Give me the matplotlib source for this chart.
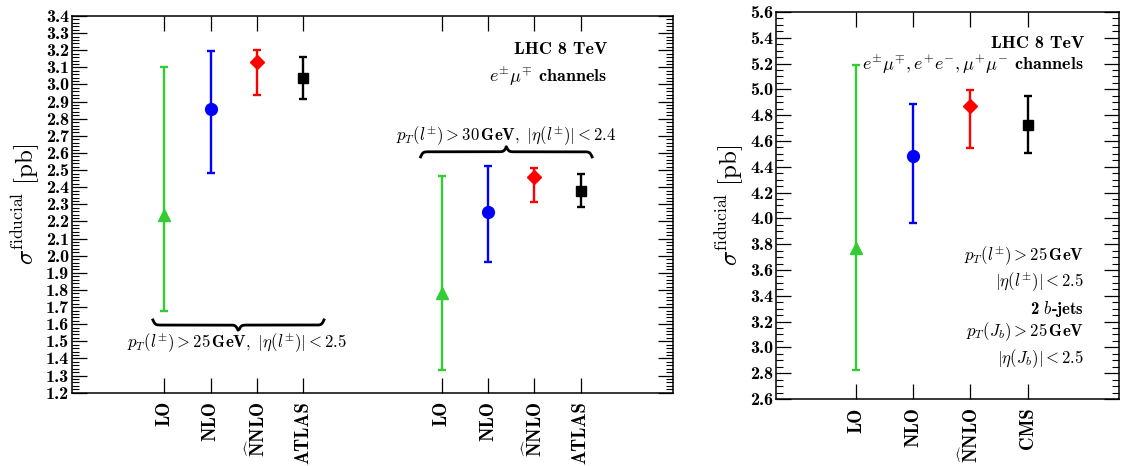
import numpy as np
import matplotlib
matplotlib.use("Agg")
import matplotlib.pyplot as plt
from matplotlib.ticker import MultipleLocator, FormatStrFormatter

plt.rcParams['font.family'] = ['cmb10', 'DejaVu Serif']
plt.rcParams['mathtext.fontset'] = 'cm'
plt.rcParams['axes.unicode_minus'] = False
plt.rcParams['axes.formatter.use_mathtext'] = False

# ---------------- data ----------------
labels_atlas = ["LO", "NLO", r"$\widehat{\mathbf{N}}\mathbf{NLO}$", "ATLAS"]
labels_cms = ["LO", "NLO", r"$\widehat{\mathbf{N}}\mathbf{NLO}$", "CMS"]

# ATLAS, pT>25 GeV, |eta|<2.5
atlas25_central = [2.24, 2.855, 3.13, 3.035]
atlas25_high = [3.10, 3.195, 3.20, 3.16]
atlas25_low = [1.68, 2.485, 2.94, 2.913]

# ATLAS, pT>30 GeV, |eta|<2.4
atlas30_central = [1.785, 2.255, 2.46, 2.378]
atlas30_high = [2.467, 2.522, 2.515, 2.479]
atlas30_low = [1.332, 1.965, 2.312, 2.283]

# CMS
cms_central = [3.77, 4.48, 4.87, 4.727]
cms_high = [5.19, 4.884, 4.995, 4.949]
cms_low = [2.825, 3.967, 4.546, 4.504]

colors = ["#33cc33", "#0000ff", "#ff0000", "#000000"]
markers = ["^", "o", "D", "s"]
msizes = [8, 8.5, 7.5, 7.5]

W, H = 1121, 466
fig = plt.figure(figsize=(W / 100, H / 100), dpi=100)
axL = fig.add_axes([72 / W, 1 - 392.7 / H, 601 / W, 376.7 / H])
axR = fig.add_axes([776 / W, 1 - 399 / H, 343 / W, 387 / H])

TICK_FS = 13
CAT_FS = 13.5


def draw_points(ax, xs, c, hi, lo):
    for x, v, h, l, col, m, ms in zip(xs, c, hi, lo, colors, markers, msizes):
        ax.errorbar([x], [v], yerr=[[v - l], [h - v]], fmt=m, color=col,
                    ms=ms, elinewidth=1.7, capsize=3.2, capthick=1.7, zorder=3)


def brace(ax, x0, x1, ybar, amp, tip_up):
    xx = np.linspace(x0, x1, 401)
    beta = 40.0 / ((ax.get_xlim()[1] - ax.get_xlim()[0]) / 13.0)
    xm = 0.5 * (x0 + x1)
    half = xx[xx <= xm]
    yh = 1 / (1 + np.exp(-beta * (half - half[0]))) + 1 / (1 + np.exp(-beta * (half - half[-1])))
    yy = np.concatenate((yh, yh[-2::-1]))
    xx2 = np.concatenate((half, (2 * xm - half)[-2::-1]))
    sgn = 1 if tip_up else -1
    ax.plot(xx2, ybar + sgn * (yy - 1) * amp, color="black", lw=2.0, zorder=2)


def style(ax, major, minor):
    ax.yaxis.set_major_locator(MultipleLocator(major))
    ax.yaxis.set_minor_locator(MultipleLocator(minor))
    ax.yaxis.set_major_formatter(FormatStrFormatter('%.1f'))
    ax.tick_params(axis='y', which='major', direction='in', length=10.5, width=0.9,
                   left=True, right=True, labelsize=TICK_FS, pad=2)
    ax.tick_params(axis='y', which='minor', direction='in', length=5, width=0.8,
                   left=True, right=True)
    ax.tick_params(axis='x', which='major', direction='in', length=10.5, width=0.9,
                   top=True, bottom=True, labelsize=CAT_FS, pad=6, labelrotation=90)
    ax.tick_params(axis='x', which='minor', bottom=False, top=False)
    for s in ax.spines.values():
        s.set_linewidth(1.1)


# ---------------- left panel ----------------
xa = np.array([2, 3, 4, 5])
xb = np.array([8, 9, 10, 11])
axL.set_xlim(0, 13)
axL.set_ylim(1.2, 3.4)
draw_points(axL, xa, atlas25_central, atlas25_high, atlas25_low)
draw_points(axL, xb, atlas30_central, atlas30_high, atlas30_low)
axL.set_xticks(np.concatenate([xa, xb]))
axL.set_xticklabels(labels_atlas + labels_atlas)
style(axL, 0.1, 0.02)

brace(axL, xa[0] - 0.25, xa[-1] + 0.45, 1.595, 0.06, tip_up=False)
axL.text(3.57, 1.487, r"$p_T(l^{\pm}) > \mathbf{25\,GeV},\ |\eta(l^{\pm})| < \mathbf{2.5}$",
         ha='center', va='center', fontsize=12)
brace(axL, xb[0] - 0.46, xb[-1] + 0.25, 2.607, 0.06, tip_up=True)
axL.text(9.40, 2.697, r"$p_T(l^{\pm}) > \mathbf{30\,GeV},\ |\eta(l^{\pm})| < \mathbf{2.4}$",
         ha='center', va='center', fontsize=12)

trL = axL.get_yaxis_transform()
axL.text(0.891, 3.205, "LHC 8 TeV", transform=trL, ha='right', va='center', fontsize=13)
axL.text(0.891, 3.046, r"$e^{\pm}\mu^{\mp}$ channels", transform=trL,
         ha='right', va='center', fontsize=13)
axL.set_ylabel(r"$\sigma^{\mathrm{fiducial}}\ [\mathrm{pb}]$", fontsize=18, labelpad=3)

# ---------------- right panel ----------------
xc = np.arange(4)
axR.set_xlim(-1.4, 4.6)
axR.set_ylim(2.6, 5.6)
draw_points(axR, xc, cms_central, cms_high, cms_low)
axR.set_xticks(xc)
axR.set_xticklabels(labels_cms)
style(axR, 0.2, 0.05)

tr = axR.get_yaxis_transform()
axR.text(0.898, 5.357, "LHC 8 TeV", transform=tr, ha='right', va='center', fontsize=13)
axR.text(0.898, 5.197, r"$e^{\pm}\mu^{\mp}, e^{+}e^{-}, \mu^{+}\mu^{-}$ channels",
         transform=tr, ha='right', va='center', fontsize=13)
cuts = [r"$p_T(l^{\pm}) > \mathbf{25\,GeV}$",
        r"$|\eta(l^{\pm})| < \mathbf{2.5}$",
        r"2 $b$-jets",
        r"$p_T(J_b) > \mathbf{25\,GeV}$",
        r"$|\eta(J_b)| < \mathbf{2.5}$"]
cut_y = [3.709, 3.501, 3.30, 3.119, 2.915]
for t, yv in zip(cuts, cut_y):
    axR.text(0.898, yv, t, transform=tr, ha='right', va='center', fontsize=12)
axR.set_ylabel(r"$\sigma^{\mathrm{fiducial}}\ [\mathrm{pb}]$", fontsize=18, labelpad=3)

fig.savefig("out.png", dpi=100)
